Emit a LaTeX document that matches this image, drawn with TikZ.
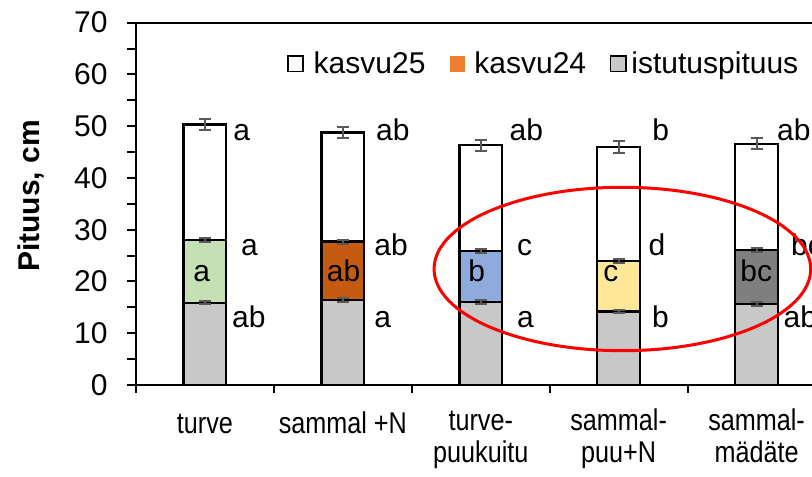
\documentclass[tikz,border=0pt]{standalone}
\usepackage{fontspec}
\setmainfont{Liberation Sans}
\newfontfamily\narrowfont[FakeStretch=0.84]{Liberation Sans}
\usepackage{tikz}

\definecolor{istutus}{HTML}{C8C8C8}
\definecolor{turvegreen}{HTML}{C5E0B4}
\definecolor{sammalorange}{HTML}{C55A11}
\definecolor{puublue}{HTML}{8FAADC}
\definecolor{puuyellow}{HTML}{FFE699}
\definecolor{madatedark}{HTML}{7F7F7F}
\definecolor{legendorange}{HTML}{ED7D31}
\definecolor{errgray}{HTML}{595959}

\tikzset{
  segbox/.style={draw=black, line width=1.15pt},
  errbar/.style={draw=errgray, line width=1pt},
  every node/.style={inner sep=0pt, font=\fontsize{15pt}{18pt}\selectfont},
  catlabel/.style={anchor=base, align=center, font=\narrowfont\fontsize{15pt}{16pt}\selectfont}
}
\newcommand{\errmark}[3]{\draw[errbar] (#1-0.0435,#2-#3) -- (#1+0.0435,#2-#3) (#1,#2-#3) -- (#1,#2+#3) (#1-0.0435,#2+#3) -- (#1+0.0435,#2+#3);}

\begin{document}
\begin{tikzpicture}[x=68.95pt, y=2.588pt]
    \useasboundingbox (-0.9862,-17.774) rectangle (4.9021,74.38);
    \draw[line width=1pt] (-0.065,70) -- (4.9021,70);
    \draw[line width=1pt] (-0.065,0) -- (4.9021,0);
    \draw[line width=1pt] (0,-1.55) -- (0,70);
    \foreach \v in {5,10,...,65} \draw[line width=1pt] (-0.065,\v) -- (0,\v);
    \foreach \c in {1,...,4} \draw[line width=1pt] (\c,0) -- (\c,-1.55);
    \foreach \v in {0,10,...,70} \node[anchor=east] (tick\v) at (-0.203,\v) {\v};
    \node[rotate=90, font=\bfseries\fontsize{15pt}{18pt}\selectfont] (ylab) at (-0.761,36.5) {Pituus, cm};

    \foreach \c/\g/\m/\t/\col in {0.5/15.9/28.0/50.3/turvegreen, 1.5/16.4/27.7/48.8/sammalorange, 2.5/16.0/25.9/46.3/puublue, 3.5/14.2/23.9/46.0/puuyellow, 4.5/15.6/26.1/46.6/madatedark}{
        \filldraw[segbox, fill=istutus] (\c-0.155,0) rectangle (\c+0.155,\g);
        \filldraw[segbox, fill=\col] (\c-0.155,\g) rectangle (\c+0.155,\m);
        \filldraw[segbox, fill=white] (\c-0.155,\m) rectangle (\c+0.155,\t);
        \errmark{\c}{\g}{0.35}
        \errmark{\c}{\m}{0.4}
        \errmark{\c}{\t}{1.1}
    }

    \node[anchor=base] (in1) at (0.476,19.96) {a};
    \node[anchor=base] (in2) at (1.506,19.96) {ab};
    \node[anchor=base] (in3) at (2.471,19.96) {b};
    \node[anchor=base] (in4) at (3.443,19.96) {c};
    \node[anchor=base] (in5) at (4.498,19.96) {bc};

    \node[anchor=base west] (top1) at (0.703,47.33) {a};
    \node[anchor=base west] (top2) at (1.738,47.33) {ab};
    \node[anchor=base west] (top3) at (2.707,47.33) {ab};
    \node[anchor=base west] (top4) at (3.742,47.33) {b};
    \node[anchor=base west] (top5) at (4.646,47.33) {ab};

    \node[anchor=base west] (mid1) at (0.759,25.02) {a};
    \node[anchor=base west] (mid2) at (1.726,25.02) {ab};
    \node[anchor=base west] (mid3) at (2.761,25.02) {c};
    \node[anchor=base west] (mid4) at (3.715,25.02) {d};
    \node[anchor=base west] (mid5) at (4.748,25.02) {bc};

    \node[anchor=base west] (low1) at (0.694,11.11) {ab};
    \node[anchor=base west] (low2) at (1.726,11.11) {a};
    \node[anchor=base west] (low3) at (2.761,11.11) {a};
    \node[anchor=base west] (low4) at (3.740,11.11) {b};
    \node[anchor=base west] (low5) at (4.694,11.11) {ab};

    \node[catlabel] (cat1) at (0.5,-9.37) {turve};
    \node[catlabel] (cat2) at (1.5,-9.37) {sammal +N};
    \node[catlabel] (cat3) at (2.5,-15.07) {turve-\\puukuitu};
    \node[catlabel] (cat4) at (3.5,-15.07) {sammal-\\puu+N};
    \node[catlabel] (cat5) at (4.5,-15.07) {sammal-\\mädäte};

    \filldraw[line width=0.8pt, fill=white] (1.104,60.53) rectangle (1.213,63.56);
    \node[anchor=base west] (leg1) at (1.286,60.22) {kasvu25};
    \fill[legendorange] (2.277,60.53) rectangle (2.386,63.56);
    \node[anchor=base west] (leg2) at (2.451,60.22) {kasvu24};
    \filldraw[line width=0.8pt, fill=istutus] (3.441,60.53) rectangle (3.553,63.56);
    \node[anchor=base west] (leg3) at (3.590,60.22) {istutuspituus};

    \draw[red, line width=1.5pt] (3.527,22.41) ellipse [x radius=94.15pt, y radius=40.85pt];
\end{tikzpicture}
\end{document}
